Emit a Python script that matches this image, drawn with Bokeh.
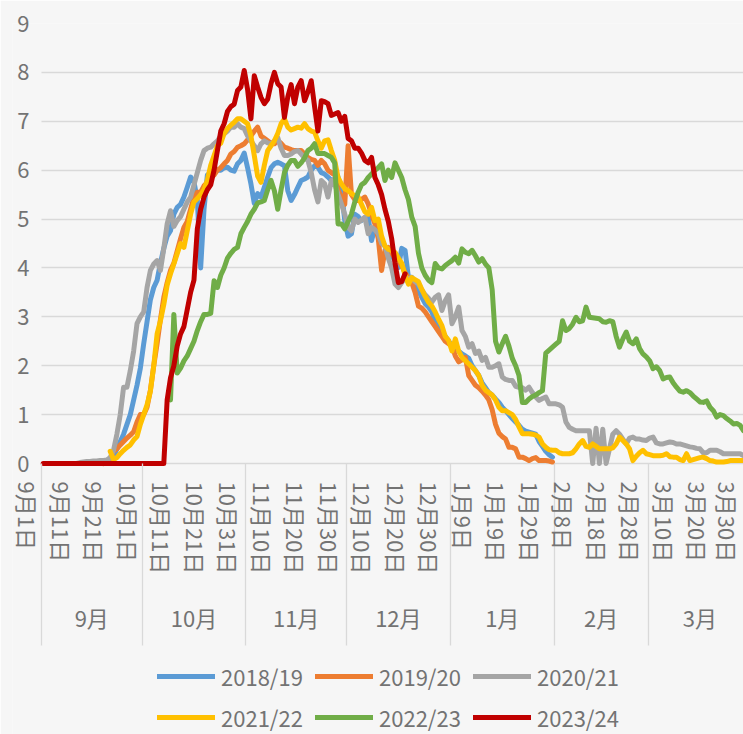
import numpy as np
from bokeh.plotting import figure
from bokeh.models import Range1d, LinearAxis, FixedTicker, Legend, LegendItem
from bokeh.embed import file_html
from bokeh.resources import INLINE

FONT = "Noto Sans CJK JP"
TXT = "#737373"
GRID = "#d9d9d9"
BG = "#f6f6f6"

# ---------------- data ----------------
seasons = ["2018/19", "2019/20", "2020/21", "2021/22", "2022/23", "2023/24"]
colors = ["#5B9BD5", "#ED7D31", "#A5A5A5", "#FFC000", "#70AD47", "#C00000"]

month_names = ["9月", "10月", "11月", "12月", "1月", "2月", "3月"]
month_lengths = [30, 31, 30, 31, 31, 28, 31]          # day index 0 = 9月1日
day_tick_days = [0, 10, 20, 30, 40, 50, 60, 70, 80, 90, 100,
                 110, 120, 130, 140, 150, 160, 170, 180, 190, 200, 210]
day_tick_labels = ["9月1日", "9月11日", "9月21日", "10月1日", "10月11日", "10月21日",
                   "10月31日", "11月10日", "11月20日", "11月30日", "12月10日", "12月20日",
                   "12月30日", "1月9日", "1月19日", "1月29日", "2月8日", "2月18日",
                   "2月28日", "3月10日", "3月20日", "3月30日"]
y_ticks = [0, 1, 2, 3, 4, 5, 6, 7, 8, 9]

# 2018/19 (from day 18)
s1819_start = 18
s1819 = [0.0, 0.02, 0.05, 0.15, 0.3, 0.45, 0.6, 0.8, 1.0, 1.3, 1.6, 1.95,
         2.45, 2.9, 3.35, 3.6, 3.75, 4.1, 4.4, 4.65, 4.76, 5.1, 5.24, 5.3,
         5.45, 5.65, 5.86, 5.76, 5.4, 4.0, 5.2, 5.9, 5.95, 6.06, 6.0, 6.0,
         6.05, 6.06, 6.0, 5.98, 6.13, 6.2, 6.35, 6.05, 5.72, 5.32, 5.52, 5.45,
         5.65, 5.86, 6.05, 6.13, 6.16, 6.13, 6.09, 5.58, 5.38, 5.5, 5.65, 5.79,
         5.82, 5.86, 6.0, 6.09, 6.06, 5.95, 5.92, 5.86, 5.79, 5.82, 5.86, 5.6,
         4.97, 4.65, 4.7, 5.1, 5.05, 4.97, 5.02, 5.04, 4.56, 4.83, 4.7, 4.56,
         4.45, 4.36, 4.25, 4.15, 4.01, 4.4, 4.36, 3.81, 3.81, 3.7, 3.54, 3.4,
         3.27, 3.2, 3.1, 2.92, 2.8, 2.72, 2.6, 2.5, 2.42, 2.35, 2.3, 2.24,
         2.2, 2.15, 2.0, 1.9, 1.8, 1.65, 1.55, 1.45, 1.4, 1.32, 1.25, 1.15,
         1.08, 1.0, 0.92, 0.85, 0.78, 0.7, 0.66, 0.64, 0.62, 0.6, 0.45, 0.35,
         0.25, 0.18, 0.13]

# 2019/20 (from day 18)
s1920_start = 18
s1920 = [0.0, 0.05, 0.1, 0.25, 0.3, 0.38, 0.45, 0.52, 0.58, 0.65, 0.85, 1.0,
         1.0, 1.15, 1.5, 2.0, 2.45, 2.95, 3.4, 3.7, 3.95, 4.1, 4.35, 4.6,
         4.83, 4.95, 5.2, 5.45, 5.55, 5.55, 5.68, 5.75, 5.86, 5.9, 6.0, 6.05,
         6.13, 6.2, 6.33, 6.38, 6.47, 6.5, 6.54, 6.62, 6.7, 6.8, 6.88, 6.7,
         6.65, 6.6, 6.55, 6.54, 6.6, 6.55, 6.47, 6.45, 6.42, 6.4, 6.4, 6.4,
         6.33, 6.26, 6.22, 6.2, 6.1, 6.2, 6.13, 6.0, 5.95, 5.9, 5.6, 5.45,
         5.3, 6.5, 5.5, 5.4, 5.38, 5.4, 5.45, 5.31, 5.1, 4.9, 4.6, 3.95,
         4.36, 4.42, 4.3, 4.2, 4.15, 4.05, 3.9, 3.8, 3.7, 3.5, 3.22, 3.18,
         3.1, 3.0, 2.9, 2.8, 2.7, 2.6, 2.5, 2.45, 2.4, 2.2, 2.08, 2.12,
         2.17, 1.8, 1.7, 1.6, 1.55, 1.48, 1.4, 1.3, 1.1, 0.8, 0.62, 0.55,
         0.5, 0.33, 0.33, 0.3, 0.13, 0.13, 0.1, 0.06, 0.1, 0.12, 0.06, 0.06,
         0.06, 0.05, 0.03]

# 2020/21 (from day 10)
s2021_start = 10
s2021 = [0.0, 0.02, 0.03, 0.04, 0.04, 0.05, 0.05, 0.06, 0.06, 0.07,
         0.12, 0.27, 0.6, 1.0, 1.56, 1.56, 1.9, 2.3, 2.86, 3.0, 3.1, 3.6,
         3.95, 4.08, 4.15, 3.95, 4.4, 4.9, 5.17, 4.85, 4.97, 5.05, 5.2, 5.35,
         5.45, 5.7, 5.95, 6.2, 6.4, 6.45, 6.47, 6.54, 6.6, 6.7, 6.74, 6.8,
         6.88, 6.88, 6.95, 6.88, 6.85, 6.7, 6.6, 6.5, 6.4, 6.54, 6.6, 6.56,
         6.54, 6.6, 6.67, 6.45, 6.3, 6.3, 6.33, 6.38, 6.4, 6.33, 6.25, 6.2,
         5.95, 5.6, 5.35, 5.79, 5.72, 5.45, 5.79, 5.72, 5.5, 5.31, 5.1, 4.83,
         4.76, 5.0, 4.93, 4.98, 5.04, 4.7, 4.83, 4.78, 4.7, 4.5, 4.45, 4.2,
         4.0, 3.67, 3.6, 3.7, 3.8, 3.78, 3.8, 3.72, 3.67, 3.55, 3.45, 3.38,
         3.3, 3.4, 3.45, 3.13, 3.33, 3.45, 2.86, 3.0, 3.2, 2.72, 2.6, 2.38,
         2.45, 2.25, 2.3, 2.11, 2.17, 1.97, 1.97, 2.0, 2.04, 1.77, 1.72, 1.7,
         1.7, 1.58, 1.56, 1.55, 1.5, 1.56, 1.45, 1.36, 1.29, 1.33, 1.36, 1.22,
         1.22, 1.22, 1.2, 1.15, 0.85, 0.74, 0.7, 0.67, 0.67, 0.67, 0.67, 0.67,
         0.0, 0.72, 0.0, 0.7, 0.0, 0.3, 0.6, 0.67, 0.6, 0.5, 0.4, 0.52,
         0.54, 0.5, 0.5, 0.48, 0.47, 0.52, 0.54, 0.42, 0.4, 0.4, 0.42, 0.44,
         0.43, 0.4, 0.4, 0.38, 0.36, 0.34, 0.33, 0.31, 0.3, 0.22, 0.22, 0.27,
         0.27, 0.27, 0.24, 0.2, 0.2, 0.2, 0.2, 0.2, 0.2, 0.16, 0.16, 0.15]

# 2021/22 (from day 20)
s2122_start = 20
s2122 = [0.25, 0.08, 0.12, 0.2, 0.27, 0.33, 0.38, 0.48, 0.55, 0.8, 1.0, 1.2,
         1.48, 2.0, 2.65, 2.92, 3.25, 3.65, 3.88, 4.08, 4.29, 4.5, 4.42, 4.76,
         5.1, 5.35, 5.42, 5.5, 5.6, 5.8, 6.1, 6.3, 6.5, 6.55, 6.75, 6.85,
         6.92, 6.98, 7.05, 7.05, 7.0, 6.95, 6.7, 6.3, 5.88, 5.75, 6.1, 6.4,
         6.5, 6.6, 6.75, 6.95, 7.05, 6.88, 6.82, 6.85, 6.88, 6.86, 6.95, 6.85,
         6.8, 6.78, 6.6, 6.45, 6.6, 6.62, 6.4, 6.2, 5.85, 5.72, 5.62, 5.58,
         5.52, 5.48, 5.45, 5.3, 5.15, 5.1, 5.24, 4.97, 5.0, 4.65, 4.45, 4.38,
         4.36, 4.32, 4.2, 4.1, 3.85, 3.67, 3.8, 3.76, 3.72, 3.56, 3.42, 3.3,
         3.22, 3.1, 2.95, 2.82, 2.6, 2.52, 2.3, 2.55, 2.3, 2.17, 2.1, 2.04,
         1.97, 1.9, 1.8, 1.6, 1.5, 1.45, 1.4, 1.3, 1.15, 1.08, 1.08, 1.04,
         1.0, 0.9, 0.75, 0.61, 0.61, 0.61, 0.6, 0.58, 0.54, 0.4, 0.33, 0.28,
         0.27, 0.27, 0.22, 0.2, 0.2, 0.2, 0.22, 0.3, 0.4, 0.47, 0.35, 0.33,
         0.4, 0.35, 0.3, 0.3, 0.3, 0.3, 0.32, 0.4, 0.54, 0.47, 0.4, 0.3,
         0.06, 0.15, 0.22, 0.27, 0.2, 0.18, 0.16, 0.16, 0.16, 0.17, 0.2, 0.14,
         0.13, 0.13, 0.08, 0.06, 0.2, 0.06, 0.08, 0.1, 0.12, 0.13, 0.1, 0.06,
         0.05, 0.03, 0.03, 0.03, 0.04, 0.06, 0.06, 0.06, 0.06, 0.06, 0.06, 0.06]

# 2022/23 (from day 38)
s2223_start = 38
s2223 = [1.3, 3.05, 1.85, 1.95, 2.1, 2.2, 2.35, 2.5, 2.72, 2.9, 3.05, 3.05,
         3.07, 3.74, 3.6, 3.85, 4.0, 4.2, 4.3, 4.38, 4.42, 4.7, 4.83, 4.95,
         5.1, 5.2, 5.33, 5.35, 5.38, 5.6, 5.79, 5.58, 5.2, 5.6, 5.95, 6.1,
         6.2, 6.2, 6.08, 6.15, 6.25, 6.4, 6.45, 6.54, 6.34, 6.34, 6.34, 6.3,
         6.26, 6.15, 4.9, 4.9, 4.8, 4.95, 5.1, 5.35, 5.55, 5.7, 5.75, 5.85,
         5.92, 6.0, 6.05, 6.13, 5.79, 6.0, 5.85, 6.15, 6.0, 5.85, 5.6, 5.4,
         5.04, 4.85, 4.3, 4.0, 3.85, 3.75, 3.7, 4.09, 4.0, 3.98, 4.05, 4.1,
         4.15, 4.22, 4.1, 4.39, 4.32, 4.29, 4.36, 4.25, 4.12, 4.19, 4.08, 4.0,
         3.55, 2.5, 2.28, 2.45, 2.6, 2.4, 2.15, 2.0, 1.8, 1.25, 1.25, 1.32,
         1.37, 1.4, 1.45, 1.49, 2.26, 2.32, 2.38, 2.44, 2.5, 2.92, 2.72, 2.76,
         2.85, 2.99, 2.9, 2.92, 3.2, 2.99, 2.98, 2.97, 2.96, 2.9, 2.89, 2.92,
         2.9, 2.6, 2.38, 2.55, 2.69, 2.5, 2.45, 2.55, 2.35, 2.24, 2.18, 2.1,
         1.94, 1.98, 1.9, 1.73, 1.76, 1.77, 1.65, 1.56, 1.48, 1.46, 1.49, 1.45,
         1.38, 1.32, 1.26, 1.25, 1.28, 1.15, 1.08, 0.95, 1.0, 0.98, 0.92, 0.87,
         0.81, 0.82, 0.78, 0.67, 0.65, 0.62]

# 2023/24 (from day 0)
s2324_start = 0
s2324 = [0.0, 0.0, 0.0, 0.0, 0.0, 0.0, 0.0, 0.0, 0.0, 0.0, 0.0, 0.0,
         0.0, 0.0, 0.0, 0.0, 0.0, 0.0, 0.0, 0.0, 0.0, 0.0, 0.0, 0.0,
         0.0, 0.0, 0.0, 0.0, 0.0, 0.0, 0.0, 0.0, 0.0, 0.0, 0.0, 0.0, 0.0,
         1.3, 1.75, 2.0, 2.4, 2.65, 2.8, 3.15, 3.5, 3.75, 4.8, 5.2, 5.45,
         5.6, 5.7, 6.0, 6.4, 6.8, 6.95, 7.2, 7.3, 7.35, 7.63, 7.7, 8.04,
         7.65, 7.05, 7.93, 7.7, 7.49, 7.36, 7.45, 7.77, 8.0, 7.77, 7.7, 7.08,
         7.5, 7.75, 7.36, 7.7, 7.83, 7.42, 7.6, 7.83, 7.3, 6.8, 7.42, 7.4,
         7.36, 7.12, 7.15, 7.18, 7.0, 7.1, 6.65, 6.6, 6.45, 6.45, 6.35, 6.2,
         6.15, 6.26, 5.85, 5.7, 5.5, 5.2, 4.95, 4.6, 4.1, 3.7, 3.72, 3.88]

series = [(s1819_start, s1819), (s1920_start, s1920), (s2021_start, s2021),
          (s2122_start, s2122), (s2223_start, s2223), (s2324_start, s2324)]

# ---------------- layout helpers ----------------
LABEL_SHIFT = 4.5   # rotated day labels sit left of their category, as in the original
month_bounds = [float(b) - 0.5 for b in np.concatenate([[0], np.cumsum(month_lengths)])]
month_centers = [(a + b) / 2 for a, b in zip(month_bounds[:-1], month_bounds[1:])]
label_ticks = [float(d) - LABEL_SHIFT for d in day_tick_days]

# the frame reaches the bottom edge; the category axes are pinned at y = 0
p = figure(width=743, height=734, output_backend="svg", toolbar_location=None,
           x_range=Range1d(-9.154, 209.0), y_range=Range1d(-5.543, 9.0),
           x_axis_type=None, min_border_left=12, min_border_right=0,
           min_border_top=23, min_border_bottom=0,
           background_fill_color=BG, border_fill_color=BG, outline_line_color=None)

# y axis
p.yaxis.ticker = FixedTicker(ticks=y_ticks)
p.yaxis.axis_line_color = None
p.yaxis.major_tick_line_color = None
p.yaxis.major_tick_out = 0
p.yaxis.major_tick_in = 0
p.yaxis.minor_tick_line_color = None
p.yaxis.minor_tick_out = 0
p.yaxis.major_label_standoff = -17
p.yaxis.major_label_text_font = FONT
p.yaxis.major_label_text_font_size = "22px"
p.yaxis.major_label_text_color = TXT

p.ygrid.grid_line_color = GRID
p.ygrid.grid_line_width = 1.3
p.ygrid.cross_bounds = (month_bounds[0], month_bounds[-1])

renderers = []
for col, (st, vals) in zip(colors, series):
    xs = list(range(st, st + len(vals)))
    r = p.line(x=xs, y=vals, line_color=col, line_width=5,
               line_join="round", line_cap="round")
    renderers.append(r)

# month separators: minor ticks of an axis pinned at y = 0
sep_axis = LinearAxis(
    fixed_location=0.0,
    ticker=FixedTicker(ticks=[], minor_ticks=month_bounds),
    minor_tick_out=182, minor_tick_in=0,
    minor_tick_line_color=GRID, minor_tick_line_width=1.3,
    major_tick_line_color=None, axis_line_color=None)
p.add_layout(sep_axis, "below")

# day-label axis
day_axis = LinearAxis(
    fixed_location=0.0,
    ticker=FixedTicker(ticks=label_ticks, minor_ticks=[]),
    major_label_overrides={t: s for t, s in zip(label_ticks, day_tick_labels)},
    major_label_orientation="vertical",
    major_label_standoff=18,
    major_label_text_font=FONT, major_label_text_font_size="22px",
    major_label_text_color=TXT,
    major_tick_line_color=None, major_tick_out=0, major_tick_in=0,
    minor_tick_line_color=None, minor_tick_out=0,
    axis_line_color=None)
p.add_layout(day_axis, "below")

# month-label axis
month_axis = LinearAxis(
    fixed_location=0.0,
    ticker=FixedTicker(ticks=month_centers, minor_ticks=[]),
    major_label_overrides={t: s for t, s in zip(month_centers, month_names)},
    major_label_standoff=137,
    major_label_text_font=FONT, major_label_text_font_size="22px",
    major_label_text_color=TXT,
    major_tick_line_color=None, major_tick_out=0, major_tick_in=0,
    minor_tick_line_color=None, minor_tick_out=0, axis_line_color=None)
p.add_layout(month_axis, "below")

legend = Legend(
    items=[LegendItem(label=s, renderers=[r]) for s, r in zip(seasons, renderers)],
    location=(145, 1), orientation="horizontal", ncols=3,
    glyph_width=58, glyph_height=30, label_height=30, label_width=85,
    label_standoff=6, spacing=9, padding=0, margin=0, border_line_color=None,
    background_fill_alpha=0, label_text_font=FONT, label_text_font_size="22px",
    label_text_color=TXT)
p.add_layout(legend, "center")

open("out.html", "w").write(file_html(p, INLINE))
